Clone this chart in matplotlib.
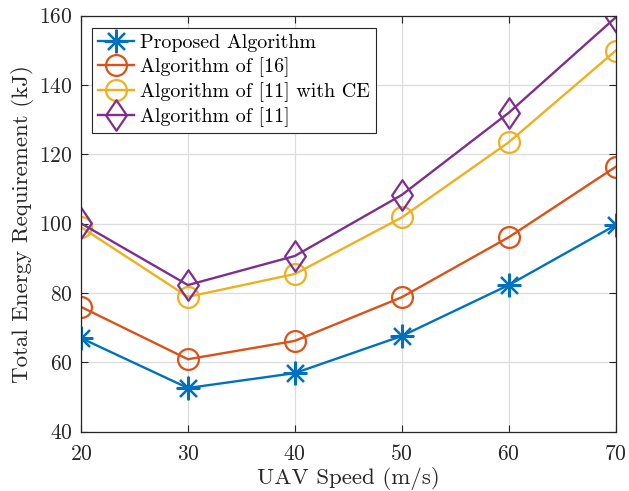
import numpy as np
import matplotlib.pyplot as plt
from matplotlib.path import Path

# data
speed = [20, 30, 40, 50, 60, 70]
proposed = [67.0, 52.6, 56.9, 67.6, 82.3, 99.6]
alg16 = [76.0, 60.9, 66.2, 78.8, 96.1, 116.4]
alg11_ce = [99.0, 78.9, 85.5, 101.8, 123.5, 149.9]
alg11 = [100.1, 82.3, 90.7, 108.3, 132.0, 159.5]

labels = ["Proposed Algorithm", "Algorithm of [16]",
          "Algorithm of [11] with CE", "Algorithm of [11]"]
xticks = [20, 30, 40, 50, 60, 70]
yticks = [40, 60, 80, 100, 120, 140, 160]

plt.rcParams['font.family'] = 'serif'
plt.rcParams['font.serif'] = ['cmr10', 'DejaVu Serif']
plt.rcParams['mathtext.fontset'] = 'cm'
plt.rcParams['axes.formatter.use_mathtext'] = True

diamond = Path([(-0.68, 0), (0, 1), (0.68, 0), (0, -1), (-0.68, 0)],
               [Path.MOVETO, Path.LINETO, Path.LINETO, Path.LINETO, Path.CLOSEPOLY])

fig = plt.figure(figsize=(6.29, 4.91), dpi=100)
ax = fig.add_axes([0.1288, 0.1208, 0.8500, 0.8472])

styles = [
    (proposed, '#0072BD', (8, 2, 0), 17),
    (alg16, '#D95319', 'o', 15),
    (alg11_ce, '#EDB120', 'o', 15),
    (alg11, '#7E2F8E', diamond, 22),
]
for (ys, col, mk, ms), lab in zip(styles, labels):
    ax.plot(speed, ys, color=col, lw=1.7, marker=mk, markersize=ms,
            markerfacecolor='none', markeredgecolor=col, markeredgewidth=1.6,
            label=lab)

ax.set_xlim(20, 70)
ax.set_ylim(40, 160)
ax.set_xticks(xticks)
ax.set_yticks(yticks)
ax.grid(True, color='#dcdcdc', lw=0.9)
ax.set_axisbelow(True)
ax.tick_params(direction='in', top=True, right=True, labelsize=15.5,
               colors='#262626', length=5)
ax.tick_params(axis='x', pad=9)
ax.tick_params(axis='y', pad=6)
for s in ax.spines.values():
    s.set_color('#262626')
    s.set_linewidth(0.9)

ax.set_xlabel("UAV Speed (m/s)", fontsize=16.5, color='#262626', labelpad=2)
ax.set_ylabel("Total Energy Requirement (kJ)", fontsize=16.5, color='#262626',
              labelpad=4)

leg = ax.legend(loc='upper left', bbox_to_anchor=(0.0206, 0.970),
                borderaxespad=0, fontsize=14.4, fancybox=False,
                edgecolor='#262626', framealpha=1, handlelength=1.8,
                labelspacing=0.25, borderpad=0.3, handletextpad=0.3)
leg.get_frame().set_linewidth(0.8)

fig.savefig("out.png", dpi=100)
